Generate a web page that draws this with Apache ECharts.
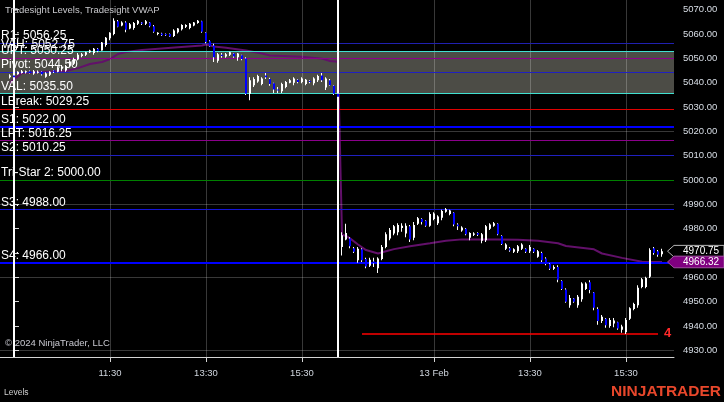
<!DOCTYPE html>
<html><head><meta charset="utf-8">
<script src="https://cdn.jsdelivr.net/npm/echarts@6/dist/echarts.min.js"></script>
<style>html,body{margin:0;padding:0;background:#000;}#c{width:724px;height:402px;}</style>
</head><body><div id="c"></div>
<script>
// ---------- DATA ----------
const barMinutes = 5;
const day1FirstBar = '09:25';
const day2FirstBar = '09:35';
// [open, high, low, close]
const day1Ohlc = [
[5042.25,5043.5,5041.75,5043.0],[5043.0,5043.25,5042.0,5042.25],[5043.5,5044.75,5043.25,5044.5],[5044.0,5045.25,5043.75,5044.75],
[5044.25,5045.0,5043.75,5044.75],[5044.75,5045.0,5043.75,5044.0],[5043.75,5045.25,5043.25,5044.75],[5044.25,5045.0,5043.75,5044.5],
[5044.5,5044.75,5043.0,5043.5],[5042.5,5044.25,5042.0,5043.75],[5043.25,5044.75,5042.75,5044.5],[5045.0,5045.25,5044.0,5044.5],
[5044.5,5046.75,5044.25,5046.0],[5045.75,5047.25,5044.75,5046.5],[5045.0,5047.25,5044.5,5046.75],[5047.0,5049.25,5046.5,5048.75],
[5047.75,5050.25,5047.25,5049.75],[5049.5,5052.25,5049.25,5051.5],[5051.0,5052.25,5050.5,5051.75],[5051.5,5052.75,5051.0,5052.5],
[5052.5,5053.5,5052.25,5053.25],[5052.25,5054.25,5051.5,5054.0],[5054.0,5054.25,5052.5,5053.0],[5053.25,5056.75,5053.25,5056.5],
[5055.5,5058.75,5054.75,5058.5],[5058.25,5060.75,5057.5,5060.5],[5060.0,5066.5,5059.5,5065.5],[5065.25,5065.75,5062.75,5063.0],
[5063.5,5065.25,5063.25,5064.75],[5064.75,5065.25,5060.75,5061.75],[5062.25,5064.5,5062.0,5064.0],[5062.5,5065.0,5061.75,5064.5],
[5064.25,5065.75,5063.75,5065.5],[5064.75,5065.0,5063.75,5064.25],[5064.25,5065.75,5063.75,5065.25],[5064.75,5065.0,5062.75,5063.25],
[5063.25,5063.75,5060.5,5061.0],[5060.0,5060.75,5059.5,5060.5],[5060.25,5060.5,5059.25,5059.5],[5060.0,5060.25,5059.25,5059.5],
[5060.0,5060.25,5058.75,5059.0],[5059.25,5062.0,5058.75,5061.5],[5060.75,5062.5,5060.25,5062.25],[5062.0,5064.0,5061.5,5063.75],
[5063.0,5064.0,5062.5,5063.75],[5062.5,5064.5,5062.0,5064.25],[5063.5,5065.0,5063.25,5064.75],[5064.5,5065.75,5064.25,5065.5],
[5065.25,5065.5,5060.5,5061.0],[5060.5,5060.75,5056.25,5056.75],[5057.0,5057.5,5054.75,5055.0],[5055.25,5056.0,5048.5,5050.5],
[5049.0,5052.25,5048.25,5051.75],[5051.5,5052.25,5050.25,5051.0],[5050.75,5052.25,5050.25,5051.75],[5051.5,5052.75,5051.0,5052.5],
[5052.0,5052.25,5050.25,5050.75],[5050.5,5052.25,5049.0,5052.0],[5051.25,5051.5,5049.25,5049.75],[5050.0,5050.5,5035.0,5035.5],
[5035.5,5042.25,5032.75,5041.0],[5039.0,5042.25,5038.25,5041.5],[5040.5,5043.25,5040.0,5042.75],[5039.5,5042.25,5039.0,5041.75],
[5043.0,5044.0,5041.5,5042.25],[5041.5,5042.0,5038.75,5039.5],[5039.75,5040.0,5035.75,5037.25],[5037.25,5038.25,5035.75,5036.75],
[5036.5,5040.0,5035.75,5039.5],[5038.25,5040.75,5037.75,5040.25],[5040.0,5041.5,5039.75,5041.0],[5040.0,5042.25,5039.0,5041.75],
[5041.25,5041.5,5039.75,5040.25],[5040.25,5042.25,5039.75,5041.75],[5039.5,5041.5,5039.0,5041.25],[5040.75,5041.0,5039.75,5040.25],
[5039.75,5042.25,5039.0,5041.75],[5041.0,5043.25,5040.25,5042.75],[5043.0,5044.0,5040.25,5041.0],[5038.0,5042.25,5037.0,5041.75],
[5041.0,5041.5,5038.75,5039.0],[5038.75,5039.0,5035.0,5035.5],[5035.5,5035.75,5033.75,5034.25]
];
const day2Ohlc = [
[4972.5,4978.5,4969.0,4977.25],[4975.5,4982.0,4975.25,4978.25],[4976.0,4976.5,4972.0,4972.75],[4972.0,4972.5,4970.0,4970.5],
[4967.0,4972.5,4966.0,4971.75],[4971.5,4972.0,4966.25,4967.0],[4967.5,4968.0,4963.75,4964.5],[4964.75,4968.0,4964.25,4967.25],
[4966.5,4968.0,4964.25,4965.75],[4963.75,4968.25,4961.75,4967.75],[4967.5,4973.25,4967.0,4972.5],[4972.5,4978.5,4972.0,4977.75],
[4976.0,4980.25,4975.25,4979.5],[4978.0,4981.5,4977.25,4981.0],[4978.5,4982.25,4977.25,4981.5],[4980.25,4982.25,4978.75,4981.25],
[4978.0,4982.25,4976.5,4981.25],[4981.0,4981.5,4974.5,4975.5],[4976.25,4982.75,4975.25,4981.5],[4982.0,4984.75,4981.5,4984.25],
[4984.0,4984.25,4981.75,4982.75],[4983.25,4983.5,4980.75,4981.25],[4981.25,4986.75,4980.75,4986.0],[4984.0,4986.75,4983.5,4986.25],
[4982.25,4985.5,4981.5,4985.0],[4984.5,4987.75,4983.5,4987.25],[4987.0,4988.5,4986.5,4988.0],[4986.0,4987.75,4985.5,4987.5],
[4986.5,4986.75,4981.0,4981.75],[4981.75,4982.25,4979.5,4981.0],[4979.25,4981.0,4978.75,4980.5],[4980.0,4980.25,4977.25,4977.75],
[4976.25,4978.5,4975.25,4978.25],[4977.5,4978.5,4977.0,4978.0],[4978.25,4978.5,4977.0,4977.5],[4975.0,4978.25,4974.0,4977.75],
[4975.25,4981.5,4974.5,4981.0],[4980.0,4982.25,4979.5,4981.75],[4981.25,4982.75,4980.75,4982.25],[4982.0,4982.25,4977.25,4977.75],
[4977.0,4977.25,4973.25,4973.75],[4971.75,4974.0,4971.25,4973.5],[4972.0,4972.5,4970.5,4971.0],[4970.5,4972.0,4970.0,4971.5],
[4970.75,4973.25,4970.0,4972.75],[4971.75,4974.0,4971.25,4973.5],[4971.75,4972.0,4970.0,4970.5],[4970.75,4973.25,4970.0,4972.5],
[4971.75,4972.0,4970.0,4970.5],[4968.5,4971.25,4968.0,4970.75],[4970.0,4970.5,4966.25,4967.0],[4967.75,4968.25,4965.0,4965.5],
[4965.5,4965.75,4963.0,4963.5],[4963.5,4965.0,4963.0,4964.25],[4964.25,4965.0,4958.0,4959.0],[4958.5,4958.75,4954.75,4955.25],
[4955.0,4955.5,4949.5,4950.0],[4948.5,4952.75,4947.5,4951.5],[4951.25,4951.5,4949.5,4950.0],[4948.5,4952.75,4947.5,4952.0],
[4951.0,4958.0,4950.0,4957.5],[4955.25,4958.0,4954.75,4957.5],[4958.0,4958.75,4953.5,4954.75],[4953.75,4954.0,4946.5,4947.5],
[4947.0,4947.75,4940.5,4942.0],[4942.0,4944.5,4941.25,4943.75],[4943.0,4943.25,4939.25,4940.25],[4940.0,4943.25,4939.25,4942.5],
[4941.0,4943.25,4939.5,4942.25],[4941.5,4941.75,4938.5,4939.0],[4938.5,4940.5,4937.25,4939.75],[4937.5,4943.25,4936.75,4942.5],
[4943.0,4947.75,4942.5,4947.25],[4947.0,4949.5,4946.5,4949.0],[4948.5,4956.75,4947.5,4955.75],[4956.0,4959.75,4955.5,4959.25],
[4956.0,4960.25,4955.5,4959.75],[4960.25,4972.0,4959.75,4971.25],[4972.0,4972.5,4969.25,4970.0],[4970.75,4971.25,4968.5,4969.25],
[4969.5,4971.75,4968.5,4970.75]
];
// VWAP readings [time, value]
const vwapDay1 = [['09:25',5039.9],['09:30',5041.5],['09:35',5042.7],['09:40',5044.0],['10:05',5044.4],['10:35',5044.8],
['10:50',5046.0],['11:05',5047.7],['11:20',5048.5],['11:30',5049.7],['11:40',5051.8],['11:50',5052.6],['12:10',5053.4],
['12:55',5054.6],['13:25',5055.3],['13:30',5055.7],['13:40',5054.9],['13:55',5054.4],['14:20',5053.2],['14:40',5052.0],
['14:50',5051.2],['15:30',5050.7],['15:55',5049.9],['16:05',5048.9],['16:15',5048.6]];
const vwapDay2 = [['09:35',4977.5],['09:40',4977.0],['09:45',4976.0],['09:55',4973.5],['10:05',4971.2],['10:20',4969.8],
['10:30',4970.7],['10:40',4971.6],['11:00',4972.8],['11:25',4974.0],['11:45',4975.0],['12:05',4975.6],['12:50',4975.6],
['13:15',4975.4],['13:40',4975.0],['14:05',4974.0],['14:15',4972.9],['14:50',4971.5],['15:00',4969.8],['15:25',4968.0],
['15:50',4966.4],['16:15',4966.32]];
const levelNames = ['R1','VAH','UPT','Pivot','VAL','LBreak','S1','LPT','S2','Tri-Star 2','S3','S4'];
const levelValues = [5056.25,5052.75,5050.25,5044.50,5035.50,5029.25,5022.00,5016.25,5010.25,5000.00,4988.00,4966.00];
const lowLine = {value:4936.75, from:[2,'10:00'], to:[2,'16:10']};
const lastPrice = 4970.75;
const vwapLast = 4966.32;
const yTickValues = [4930,4940,4950,4960,4970,4980,4990,5000,5010,5020,5030,5040,5050,5060,5070];
const xTickTimes = [[1,'11:30'],[1,'13:30'],[1,'15:30'],[2,'11:30'],[2,'13:30'],[2,'15:30']];
const xTickLabels = ['11:30','13:30','15:30','13 Feb','13:30','15:30'];
const sessionStarts = [[1,'09:30'],[2,'09:30']];
const hGridValues = [4930,4960,4990,5020,5050];

// ---------- HELPERS ----------
const SESSION_MIN = 405; // 09:30 - 16:15
function tOf(day, hhmm){ const p=hhmm.split(':').map(Number); return (day-1)*SESSION_MIN + p[0]*60+p[1]-570; }
function barsToData(day, first, rows){
  const t0 = tOf(day, first);
  return rows.map((r,i)=>[t0+i*barMinutes, r[0], r[1], r[2], r[3]]);
}
const candleData = barsToData(1, day1FirstBar, day1Ohlc).concat(barsToData(2, day2FirstBar, day2Ohlc));
const vwapData = vwapDay1.map(p=>[tOf(1,p[0]),p[1]]).concat(vwapDay2.map(p=>[tOf(2,p[0]),p[1]]));
const xTickValues = xTickTimes.map(p=>tOf(p[0],p[1]));
const xLabelMap = {}; xTickValues.forEach((v,i)=>xLabelMap[v]=xTickLabels[i]);

const levelStyle = {
  'R1':{color:'#2020b0',width:1}, 'VAH':{color:'#40e0d0',width:1.2}, 'UPT':{color:'#8b008b',width:1},
  'Pivot':{color:'#2020c0',width:1}, 'VAL':{color:'#40e0d0',width:1.2}, 'LBreak':{color:'#e00000',width:1},
  'S1':{color:'#0000ff',width:2}, 'LPT':{color:'#8b008b',width:1}, 'S2':{color:'#2020c0',width:1},
  'Tri-Star 2':{color:'#008000',width:1}, 'S3':{color:'#1414d8',width:1}, 'S4':{color:'#0000ff',width:2}
};
const FONT = 'Liberation Sans';

function renderCandle(params, api){
  const t=api.value(0), o=api.value(1), h=api.value(2), l=api.value(3), c=api.value(4);
  const pO=api.coord([t,o]), pC=api.coord([t,c]), pH=api.coord([t,h]), pL=api.coord([t,l]);
  const x=Math.round(pO[0]);
  const up = c>=o;
  const top=Math.min(pO[1],pC[1]), bot=Math.max(pO[1],pC[1]);
  return {type:'group', children:[
    {type:'rect', shape:{x:x-1, y:pH[1], width:1, height:Math.max(1,pL[1]-pH[1])}, style:{fill:'#ffffff'}},
    {type:'rect', shape:{x:x-1, y:top, width:2, height:Math.max(1,bot-top)}, style:{fill: up?'#ffffff':'#0000ff'}}
  ]};
}

const chart = echarts.init(document.getElementById('c'), null, {renderer:'canvas', width:724, height:402});
const option = {
  backgroundColor:'#000000',
  animation:false,
  grid:{left:0, right:50, top:0, bottom:45},
  xAxis:{type:'value', min:-17.5, max:825,
    axisLine:{show:true, onZero:false, lineStyle:{color:'#d4d4d4', width:1}},
    axisTick:{show:true, customValues:xTickValues, length:5, lineStyle:{color:'#d4d4d4'}},
    axisLabel:{customValues:xTickValues, formatter:v=>xLabelMap[v]||'', color:'#d0d6de', fontSize:9.5, fontFamily:FONT, margin:11},
    splitLine:{show:false}},
  yAxis:{type:'value', position:'right', min:4927.25, max:5074, scale:true,
    axisLine:{show:true, lineStyle:{color:'#d4d4d4', width:1}},
    axisTick:{show:true, customValues:yTickValues, length:5, lineStyle:{color:'#d4d4d4'}},
    axisLabel:{customValues:yTickValues, formatter:v=>v.toFixed(2), color:'#d8dee6', fontSize:9.5, fontFamily:FONT, margin:9},
    splitLine:{show:false}},
  series:[
    {type:'line', data:[], z:1, silent:true,
      markArea:{silent:true, itemStyle:{color:'#4c4c46'},
        data:[[{yAxis:levelValues[levelNames.indexOf('VAH')]},{yAxis:levelValues[levelNames.indexOf('VAL')]}]]}},
    {type:'line', data:[], z:2, silent:true,
      markLine:{silent:true, symbol:['none','none'], label:{show:false},
        lineStyle:{color:'rgba(255,255,255,0.22)', width:1, type:'solid'},
        data: hGridValues.map(v=>({yAxis:v})).concat(xTickValues.map(v=>({xAxis:v})))}},
    {type:'line', data:[], z:3, silent:true,
      markLine:{silent:true, symbol:['none','none'], label:{show:false},
        data: levelNames.map((n,i)=>({yAxis:levelValues[i], lineStyle:{color:levelStyle[n].color, width:levelStyle[n].width, type:'solid'}}))
          .concat([[{coord:[tOf(lowLine.from[0],lowLine.from[1]),lowLine.value], lineStyle:{color:'#ff0000',width:1.5,type:'solid'},
                     label:{show:true, position:'end', distance:6, formatter:lowLine.value.toFixed(2), color:'#ff2a2a', fontSize:13, fontWeight:'bold', fontFamily:FONT, width:9, overflow:'truncate', ellipsis:''}},
                    {coord:[tOf(lowLine.to[0],lowLine.to[1]),lowLine.value]}]])}},
    {type:'line', data:vwapData, z:4, silent:true, symbol:'none', showSymbol:false,
      lineStyle:{color:'#62106a', width:2}},
    {type:'custom', data:candleData, z:5, silent:true, renderItem:renderCandle,
      encode:{x:0, y:[1,2,3,4]}},
    {type:'line', data:[], z:6, silent:true,
      markLine:{silent:true, symbol:['none','none'], label:{show:false},
        lineStyle:{color:'#ffffff', width:2, type:'solid'},
        data: sessionStarts.map(p=>({xAxis:tOf(p[0],p[1])}))}},
    {type:'line', data:[], z:10, silent:true,
      markLine:{silent:true, symbol:['none','none'],
        lineStyle:{color:'rgba(0,0,0,0)', width:1, type:'solid'},
        label:{show:true, position:'insideStartTop', distance:[1,1], color:'#ffffff', fontSize:12, fontFamily:FONT},
        data: levelNames.map((n,i)=>({yAxis:levelValues[i], label:{show:true, formatter:n+': '+levelValues[i].toFixed(2)}}))}}
  ]
};
chart.setOption(option);

const yLast = chart.convertToPixel({yAxisIndex:0}, lastPrice);
const yVw = chart.convertToPixel({yAxisIndex:0}, vwapLast);
function tag(y, fill, stroke, text){
  return [
    {type:'polygon', z:100, shape:{points:[[667.5,y],[674,y-5.8],[724,y-5.8],[724,y+5.8],[674,y+5.8]]}, style:{fill:fill, stroke:stroke, lineWidth:1}},
    {type:'text', z:101, x:683, y:y, style:{text:text, fill:'#ffffff', font:'10px "'+FONT+'"', align:'left', verticalAlign:'middle', textAlign:'left', textVerticalAlign:'middle'}}
  ];
}
chart.setOption({graphic:[
  {type:'text', z:100, x:5, y:10, style:{text:'Tradesight Levels, Tradesight VWAP', fill:'#c8c8cc', font:'9.5px "'+FONT+'"', verticalAlign:'middle', textVerticalAlign:'middle'}},
  {type:'text', z:100, x:5, y:343, style:{text:'\u00A9 2024 NinjaTrader, LLC', fill:'#c8c8d0', font:'9.5px "'+FONT+'"', verticalAlign:'middle', textVerticalAlign:'middle'}},
  {type:'text', z:100, x:4, y:392.5, style:{text:'Levels', fill:'#d0d0d0', font:'8.5px "'+FONT+'"', verticalAlign:'middle', textVerticalAlign:'middle'}},
  {type:'text', z:100, x:721, y:391.5, style:{text:'NINJATRADER', fill:'#e8472b', font:'bold 15.5px "'+FONT+'"', align:'right', textAlign:'right', verticalAlign:'middle', textVerticalAlign:'middle'}}
].concat(tag(yLast,'#000000','#b4b4b4',lastPrice.toFixed(2))).concat(tag(yVw,'#800080','#a050a0',vwapLast.toFixed(2)))});
</script></body></html>
